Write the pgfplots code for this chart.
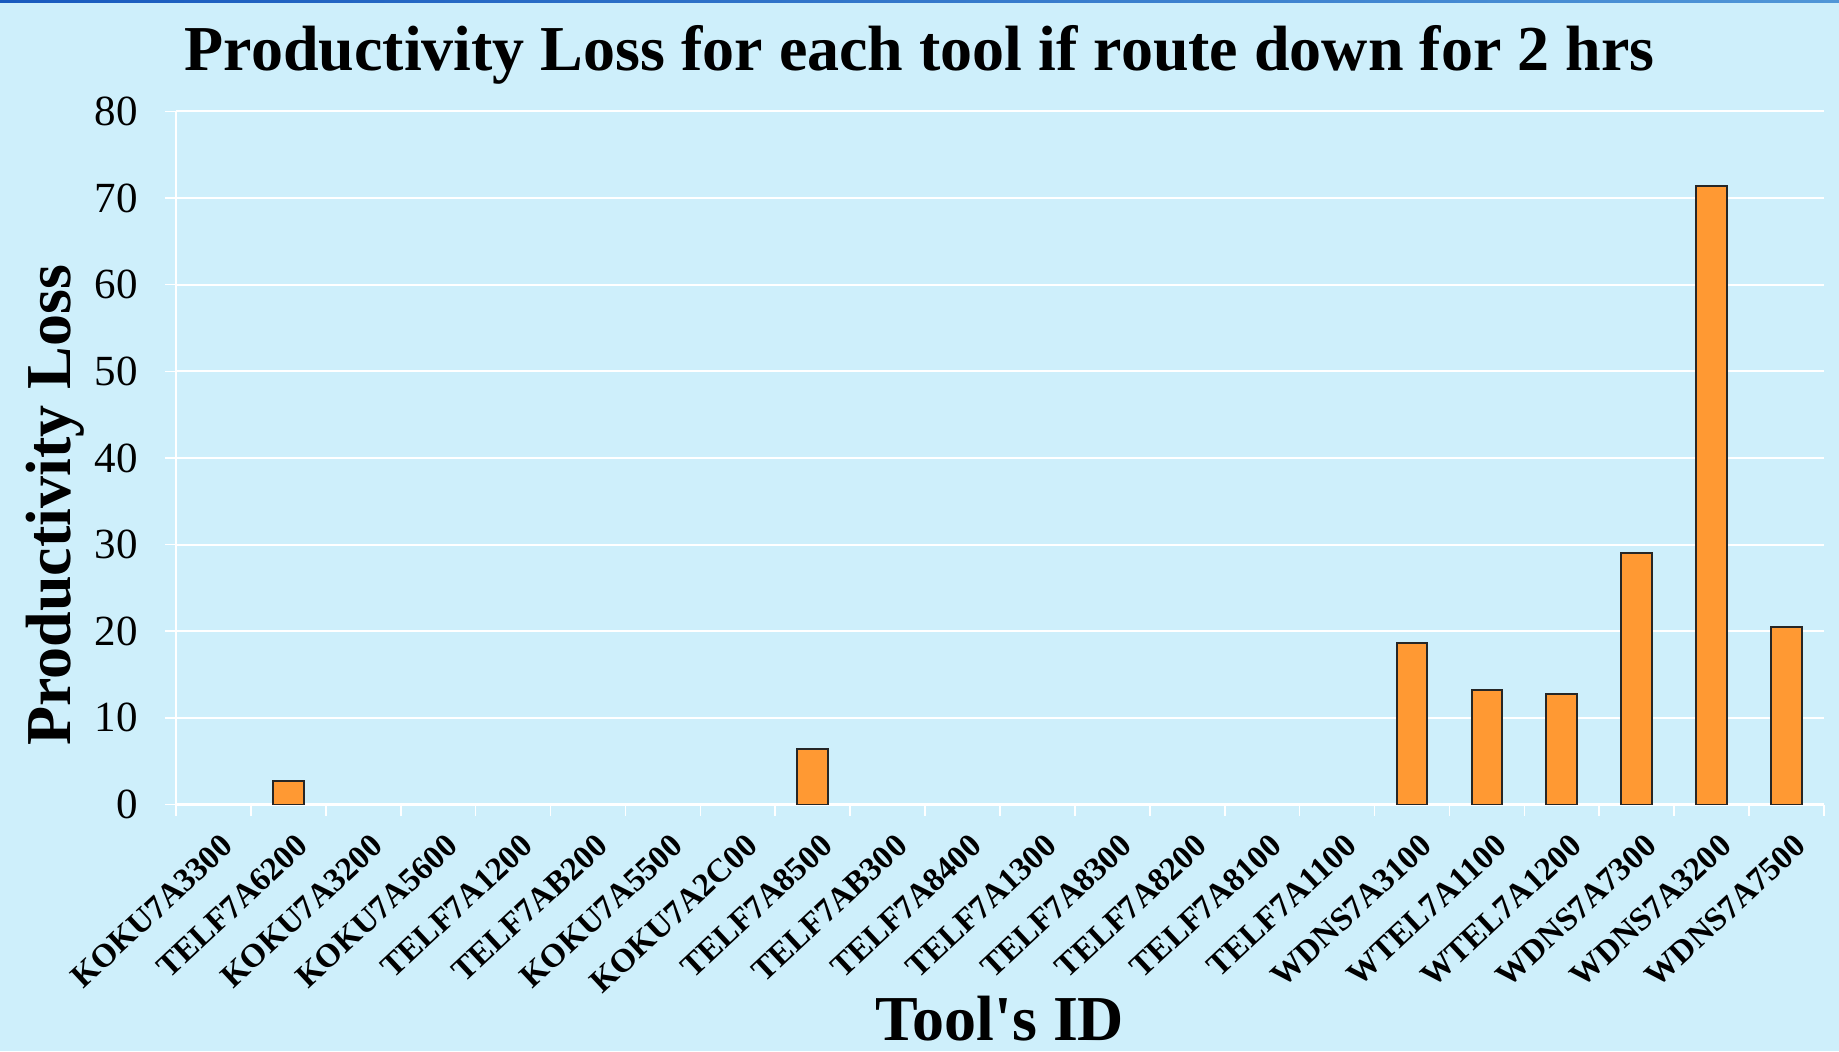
\documentclass[border=0pt]{standalone}
\usepackage{pgfplots}
\pgfplotsset{compat=1.18}
\usepackage{pgfplotstable}
\usepackage{fontspec}
\setmainfont{Liberation Serif}
\definecolor{bg}{RGB}{206,239,251}
\definecolor{barfill}{RGB}{255,153,51}
\definecolor{topblueA}{RGB}{25,90,190}
\definecolor{topblueB}{RGB}{80,150,215}
\pgfplotstableread{
idx value
0 0
1 2.7
2 0
3 0
4 0
5 0
6 0
7 0
8 6.4
9 0
10 0
11 0
12 0
13 0
14 0
15 0
16 18.6
17 13.2
18 12.7
19 29.0
20 71.4
21 20.5
}\loss
\begin{document}
\begin{tikzpicture}
\fill[bg] (-88pt,-123.25pt) rectangle (831.5pt,402.25pt);
\shade[left color=topblueA,right color=topblueB] (-88pt,400.75pt) rectangle (831.5pt,402.25pt);
\path[use as bounding box] (-88pt,-123.25pt) rectangle (831.5pt,402.25pt);
\begin{axis}[
  scale only axis,
  width=824pt, height=346.55pt,
  xmin=-0.5, xmax=21.5,
  ymin=0, ymax=80,
  ytick={0,10,...,80},
  xtick={-0.5,0.5,...,21.5},
  x tick label as interval,
  xticklabels={KOKU7A3300,TELF7A6200,KOKU7A3200,KOKU7A5600,TELF7A1200,TELF7AB200,KOKU7A5500,KOKU7A2C00,TELF7A8500,TELF7AB300,TELF7A8400,TELF7A1300,TELF7A8300,TELF7A8200,TELF7A8100,TELF7A1100,WDNS7A3100,WTEL7A1100,WTEL7A1200,WDNS7A7300,WDNS7A3200,WDNS7A7500},
  axis x line*=bottom,
  axis y line*=left,
  x axis line style={white, line width=1.2pt},
  y axis line style={white, line width=1.1pt},
  tick align=outside,
  major tick length=5.5pt,
  tick style={white, line width=0.8pt},
  ymajorgrids,
  grid style={white, line width=1pt},
  /pgf/number format/assume math mode=true,
  yticklabel style={font=\fontsize{21.5}{24}\selectfont, inner sep=0pt},
  yticklabel shift=13.5pt,
  xticklabel style={font=\fontsize{16.5}{19}\selectfont\bfseries, inner sep=0pt, xshift=3.25pt, rotate=43, anchor=north east},
  xticklabel shift=8.25pt,
  title={Productivity Loss for each tool if route down for 2 hrs},
  title style={font=\fontsize{32}{38}\selectfont\bfseries, at={(axis description cs:0.4512,1.0414)}, anchor=base, inner sep=0pt},
  xlabel={Tool\textquotesingle s ID},
  xlabel style={font=\fontsize{32}{38}\selectfont\bfseries, at={(axis description cs:0.5,-0.3408)}, anchor=base, inner sep=0pt},
  ylabel={Productivity Loss},
  ylabel style={font=\fontsize{32}{38}\selectfont\bfseries, at={(axis description cs:-0.0643,0.4317)}, anchor=base, inner sep=0pt},
  ybar, bar width=0.41,
  y filter/.expression={y==0 ? nan : y},
]
\addplot[draw=black!85, line width=1pt, fill=barfill] table[x=idx, y=value] {\loss};
\end{axis}
\end{tikzpicture}
\end{document}
